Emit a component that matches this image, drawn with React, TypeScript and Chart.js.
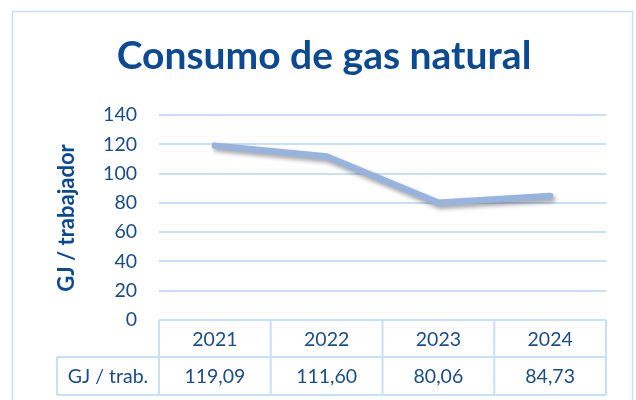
import React, { useEffect, useRef } from "react";
import { Chart, registerables } from "chart.js";

Chart.register(...registerables);

const TITLE = "Consumo de gas natural";
const Y_TITLE = "GJ / trabajador";
const ROW_LABEL = "GJ / trab.";
const YEARS = ["2021", "2022", "2023", "2024"];
const VALUES = [119.09, 111.6, 80.06, 84.73];
const Y_MIN = 0;
const Y_MAX = 140;
const Y_STEP = 20;

const FONT = "Lato, 'Open Sans', sans-serif";
const TEXT = "#1a4c8b";
const TITLE_COLOR = "#0b4a92";
const GRID = "#c8e0f7";
const LINE = "#97b3de";

const fmt = (v: number) => v.toFixed(2).replace(".", ",");

const tablePlugin = {
  id: "tablePlugin",
  beforeDraw(chart: any) {
    const ctx = chart.ctx;
    ctx.save();
    ctx.fillStyle = "#ffffff";
    ctx.fillRect(0, 0, chart.width, chart.height);
    ctx.strokeStyle = GRID;
    ctx.lineWidth = 1.5;
    ctx.strokeRect(12.5, 11.5, 620, 420);
    // title
    ctx.fillStyle = TITLE_COLOR;
    ctx.font = `bold 39px ${FONT}`;
    ctx.textAlign = "center";
    ctx.textBaseline = "alphabetic";
    ctx.fillText(TITLE, 324, 69);
    // y axis title
    ctx.save();
    ctx.translate(67, 218);
    ctx.rotate(-Math.PI / 2);
    ctx.font = `bold 22px ${FONT}`;
    ctx.textBaseline = "middle";
    ctx.fillText(Y_TITLE, 0, 0);
    ctx.restore();
    ctx.restore();
  },
  beforeDatasetDraw(chart: any) {
    const ctx = chart.ctx;
    ctx.save();
    ctx.shadowColor = "rgba(0,0,0,0.35)";
    ctx.shadowBlur = 4;
    ctx.shadowOffsetX = 2;
    ctx.shadowOffsetY = 3;
  },
  afterDatasetDraw(chart: any) {
    chart.ctx.restore();
  },
  afterDraw(chart: any) {
    const ctx = chart.ctx;
    const xs = chart.scales.x;
    const area = chart.chartArea;
    const n = YEARS.length;
    const colW = (area.right - area.left) / n;
    const top = area.bottom;
    const mid = top + 37;
    const bot = top + 75;
    const labelLeft = 57;
    ctx.save();
    ctx.strokeStyle = GRID;
    ctx.lineWidth = 2;
    ctx.beginPath();
    ctx.moveTo(area.left, top);
    ctx.lineTo(area.right, top);
    ctx.moveTo(labelLeft, mid);
    ctx.lineTo(area.right, mid);
    ctx.moveTo(labelLeft, bot);
    ctx.lineTo(area.right, bot);
    ctx.moveTo(labelLeft, mid);
    ctx.lineTo(labelLeft, bot);
    for (let i = 0; i <= n; i++) {
      const x = area.left + i * colW;
      ctx.moveTo(x, top);
      ctx.lineTo(x, bot);
    }
    ctx.stroke();
    ctx.fillStyle = TEXT;
    ctx.font = `19.5px ${FONT}`;
    ctx.textAlign = "center";
    ctx.textBaseline = "middle";
    for (let i = 0; i < n; i++) {
      const cx = xs.getPixelForValue(i);
      ctx.fillText(YEARS[i], cx, (top + mid) / 2 + 1);
      ctx.fillText(fmt(VALUES[i]), cx, (mid + bot) / 2 + 1);
    }
    ctx.fillText(ROW_LABEL, (labelLeft + area.left) / 2, (mid + bot) / 2 + 1);
    ctx.restore();
  },
};

export default function App() {
  const ref = useRef<HTMLCanvasElement>(null);
  useEffect(() => {
    if (!ref.current) return;
    const chart = new Chart(ref.current, {
      type: "line",
      data: {
        labels: YEARS,
        datasets: [
          {
            data: VALUES,
            borderColor: LINE,
            borderWidth: 6.5,
            borderCapStyle: "round",
            borderJoinStyle: "round",
            pointRadius: 0,
            tension: 0,
            fill: false,
          },
        ],
      },
      options: {
        animation: false,
        responsive: false,
        maintainAspectRatio: false,
        layout: { padding: { left: 0, right: 30, top: 115, bottom: 80 } },
        plugins: { legend: { display: false }, title: { display: false }, tooltip: { enabled: false } },
        scales: {
          x: { type: "category", offset: true, display: false },
          y: {
            min: Y_MIN,
            max: Y_MAX,
            ticks: { stepSize: Y_STEP, padding: 22, color: TEXT, font: { family: FONT, size: 19.5 } },
            grid: { color: GRID, lineWidth: 2, drawTicks: false },
            border: { display: false },
            afterFit: (s: any) => {
              s.width = 159;
            },
          },
        },
      },
      plugins: [tablePlugin],
    });
    return () => chart.destroy();
  }, []);
  return (
    <div style={{ position: "fixed", left: 0, top: 0, width: 636, height: 400 }}>
      <canvas ref={ref} width={636} height={400} style={{ width: 636, height: 400, display: "block" }} />
    </div>
  );
}
